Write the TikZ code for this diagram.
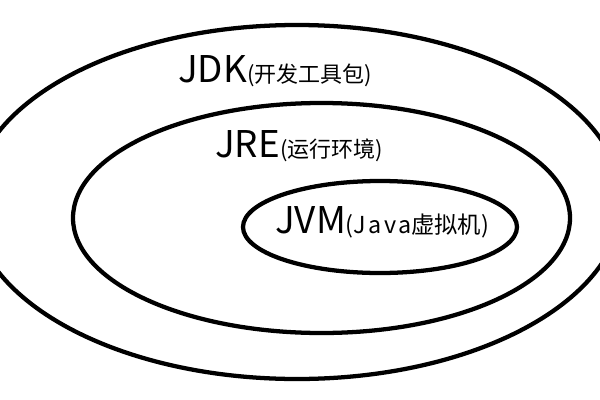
\documentclass[tikz,border=0pt]{standalone}
\usepackage{fontspec}
\setmainfont{Noto Sans CJK SC}
\usetikzlibrary{shapes.geometric}
\newcommand{\bigtxt}{\fontsize{27.6}{30}\selectfont}
\newcommand{\smalltxt}{\fontsize{16.5}{20}\selectfont}
\newcommand{\smalltxtb}{\fontsize{17.5}{20}\selectfont}
\tikzset{
  ring/.style={ellipse, draw=black, line width=3.2pt, inner sep=0pt},
  lbl/.style={anchor=base west, inner sep=0pt}
}
\begin{document}
\begin{tikzpicture}[x=0.75pt,y=-0.75pt]
\useasboundingbox (0,0) rectangle (600,400);
\node[ring, minimum width=650*0.75pt, minimum height=354*0.75pt] (jdk) at (297,202) {};
\node[ring, minimum width=497*0.75pt, minimum height=230*0.75pt] (jre) at (321.5,218) {};
\node[ring, minimum width=274*0.75pt, minimum height=92*0.75pt] (jvm) at (380,227) {};
\node[lbl] (tjdk) at (178,82) {{\bigtxt JDK}{\smalltxt(开发工具包)}};
\node[lbl] (tjre) at (215,157) {{\bigtxt JRE}{\smalltxt(运行环境)}};
\node[lbl] (tjvm) at (275,233) {{\bigtxt JVM}{\smalltxtb({\addfontfeature{LetterSpace=10}Java}虚拟机)}};
\end{tikzpicture}
\end{document}
